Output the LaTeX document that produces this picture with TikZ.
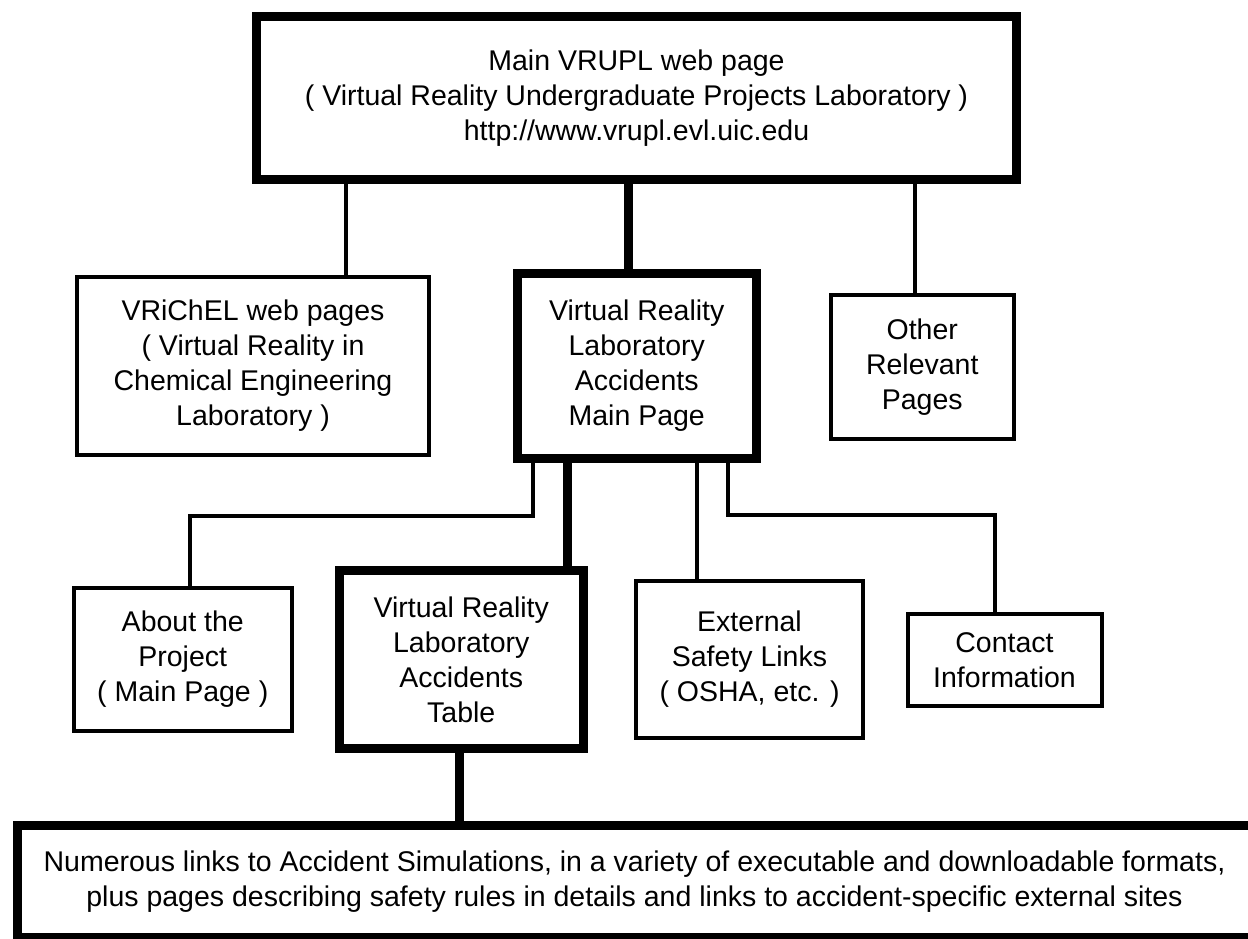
\documentclass[tikz,border=0pt]{standalone}
\usepackage{fontspec}
\setmainfont{Liberation Sans}
\begin{document}
\begin{tikzpicture}[x=1pt,y=-1pt,
  box/.style={draw, rectangle, line width=4pt, align=center, inner sep=0pt,
    font=\fontsize{28.5}{35}\selectfont},
  bigbox/.style={box, line width=9pt},
  conn/.style={line width=4.5pt},
  mainconn/.style={line width=9pt}]
\useasboundingbox (0,0) rectangle (1248,939);
\clip (0,0) rectangle (1248,939);

\node[bigbox, minimum width=760pt, minimum height=163pt] (top) at (636.5,98)
  {Main VRUPL web page\\( Virtual Reality Undergraduate Projects Laboratory )\\http://www.vrupl.evl.uic.edu};
\node[box, minimum width=352pt, minimum height=178pt] (vrichel) at (253,366)
  {VRiChEL web pages\\( Virtual Reality in\\Chemical Engineering\\Laboratory )};
\node[bigbox, minimum width=239.5pt, minimum height=185.5pt] (main) at (636.75,365.75)
  {Virtual Reality\\Laboratory\\Accidents\\Main Page};
\node[box, minimum width=182.5pt, minimum height=144pt] (other) at (922.25,366.7)
  {Other\\Relevant\\Pages};
\node[box, minimum width=217.5pt, minimum height=143pt] (about) at (182.75,659.5)
  {About the\\Project\\( Main Page )};
\node[bigbox, minimum width=243.5pt, minimum height=178pt] (table) at (461.25,659.5)
  {Virtual Reality\\Laboratory\\Accidents\\Table};
\node[box, minimum width=227pt, minimum height=156.5pt] (external) at (749.5,659.25)
  {External\\Safety Links\\( OSHA, etc. )};
\node[box, minimum width=194pt, minimum height=91.5pt] (contact) at (1004.5,659.75)
  {Contact\\Information};
\node[bigbox, minimum width=1235pt, minimum height=112pt] (bottom) at (634.5,881.5)
  {Numerous links to Accident Simulations, in a variety of executable and downloadable formats,\\plus pages describing safety rules in details and links to accident-specific external sites};

\coordinate (c1) at (346,0);
\coordinate (c2) at (628,0);
\coordinate (c3) at (915,0);
\coordinate (k1) at (533,516);
\coordinate (k2) at (190,516);
\coordinate (c4) at (567.5,0);
\coordinate (c5) at (697,0);
\coordinate (k3) at (728,515);
\coordinate (k4) at (995,515);
\coordinate (c6) at (459,0);

\draw[conn] (top.south -| c1) -- (vrichel.north -| c1);
\draw[mainconn] (top.south -| c2) -- (main.north -| c2);
\draw[conn] (top.south -| c3) -- (other.north -| c3);
\draw[conn] (main.south -| k1) -- (k1) -- (k2) -- (about.north -| k2);
\draw[mainconn] (main.south -| c4) -- (table.north -| c4);
\draw[conn] (main.south -| c5) -- (external.north -| c5);
\draw[conn] (main.south -| k3) -- (k3) -- (k4) -- (contact.north -| k4);
\draw[mainconn] (table.south -| c6) -- (bottom.north -| c6);
\end{tikzpicture}
\end{document}
